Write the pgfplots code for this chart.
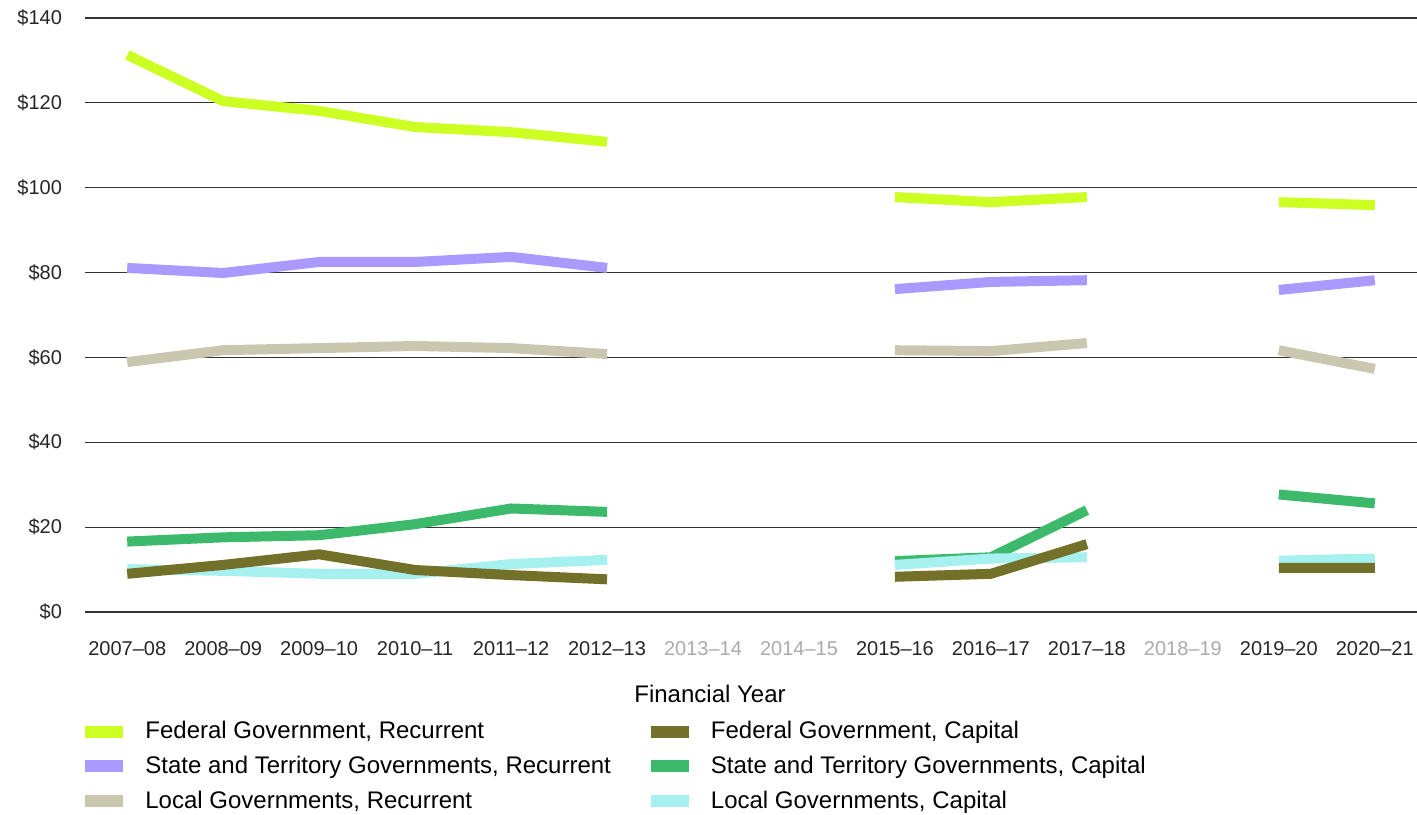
\documentclass[border=0pt]{standalone}
\usepackage{pgfplots}
\pgfplotsset{compat=1.18}
\usepackage{fontspec}
\setmainfont{Liberation Sans}

\definecolor{fedrec}{HTML}{CCFF22}
\definecolor{staterec}{HTML}{AA99FF}
\definecolor{localrec}{HTML}{C9C7B0}
\definecolor{fedcap}{HTML}{73702A}
\definecolor{statecap}{HTML}{3DB96B}
\definecolor{localcap}{HTML}{A6F0F0}
\definecolor{gridc}{HTML}{333333}
\definecolor{missing}{HTML}{AAAAAA}

\begin{document}
\begin{tikzpicture}
\path[use as bounding box] (-42.5pt,-101pt) rectangle (666pt,306pt);
\begin{axis}[
    scale only axis, width=666pt, height=297pt,
    xmin=-0.44, xmax=13.44, ymin=0, ymax=140,
    axis line style={draw=none},
    major tick length=0pt,
    ytick={0,20,...,140},
    yticklabel={\$\pgfmathprintnumber{\tick}},
    /pgf/number format/assume math mode=true,
    ymajorgrids, grid style={gridc, line width=0.6pt},
    xtick={0,...,13},
    xticklabels={2007--08,2008--09,2009--10,2010--11,2011--12,2012--13,
      \textcolor{missing}{2013--14},\textcolor{missing}{2014--15},
      2015--16,2016--17,2017--18,\textcolor{missing}{2018--19},2019--20,2020--21},
    ticklabel style={font=\fontsize{10}{12}\selectfont, text=black!85},
    yticklabel style={xshift=-8pt},
    xticklabel style={yshift=-11pt},
    xlabel={Financial Year},
    xlabel style={font=\fontsize{12}{14}\selectfont, yshift=-8pt, xshift=-20.5pt},
    unbounded coords=jump,
    legend columns=2,
    legend style={draw=none, fill=none, at={(0,-0.17)}, anchor=north west, xshift=-6pt,
      font=\fontsize{12}{14}\selectfont, row sep=3.2pt,
      /tikz/every even column/.append style={column sep=15pt}},
    legend cell align=left,
    legend image code/.code={\draw[#1] (0pt,0pt) -- (19pt,0pt); \path (25pt,0pt);},
    every axis plot/.append style={line width=5pt},
  ]
\addlegendimage{fedrec, line width=6pt}
\addlegendentry{Federal Government, Recurrent}
\addlegendimage{fedcap, line width=6pt}
\addlegendentry{Federal Government, Capital}
\addlegendimage{staterec, line width=6pt}
\addlegendentry{State and Territory Governments, Recurrent}
\addlegendimage{statecap, line width=6pt}
\addlegendentry{State and Territory Governments, Capital}
\addlegendimage{localrec, line width=6pt}
\addlegendentry{Local Governments, Recurrent}
\addlegendimage{localcap, line width=6pt}
\addlegendentry{Local Governments, Capital}

% State and Territory, Capital
\addplot[statecap, forget plot] coordinates {(0,16.6) (1,17.6) (2,18.1) (3,20.7) (4,24.4) (5,23.6)
  (6,nan) (7,nan) (8,12.0) (9,12.9) (10,24.0) (11,nan) (12,27.7) (13,25.6)};
% Local, Capital
\addplot[localcap, forget plot] coordinates {(0,10.1) (1,9.7) (2,9.0) (3,9.0) (4,11.3) (5,12.3)
  (6,nan) (7,nan) (8,11.1) (9,12.6) (10,12.9) (11,nan) (12,12.1) (13,12.6)};
% Federal, Capital
\addplot[fedcap, forget plot] coordinates {(0,9.0) (1,11.1) (2,13.6) (3,9.9) (4,8.7) (5,7.7)
  (6,nan) (7,nan) (8,8.3) (9,9.0) (10,16.0) (11,nan) (12,10.4) (13,10.4)};
% Local, Recurrent
\addplot[localrec, forget plot] coordinates {(0,58.9) (1,61.7) (2,62.2) (3,62.7) (4,62.2) (5,60.8)
  (6,nan) (7,nan) (8,61.7) (9,61.5) (10,63.4) (11,nan) (12,61.7) (13,57.3)};
% State and Territory, Recurrent
\addplot[staterec, forget plot] coordinates {(0,81.1) (1,79.9) (2,82.5) (3,82.5) (4,83.7) (5,81.1)
  (6,nan) (7,nan) (8,76.1) (9,77.8) (10,78.2) (11,nan) (12,75.9) (13,78.2)};
% Federal, Recurrent
\addplot[fedrec, forget plot] coordinates {(0,131.3) (1,120.4) (2,118.1) (3,114.3) (4,113.1) (5,110.8)
  (6,nan) (7,nan) (8,97.8) (9,96.6) (10,97.8) (11,nan) (12,96.6) (13,95.9)};
\end{axis}
\end{tikzpicture}
\end{document}
